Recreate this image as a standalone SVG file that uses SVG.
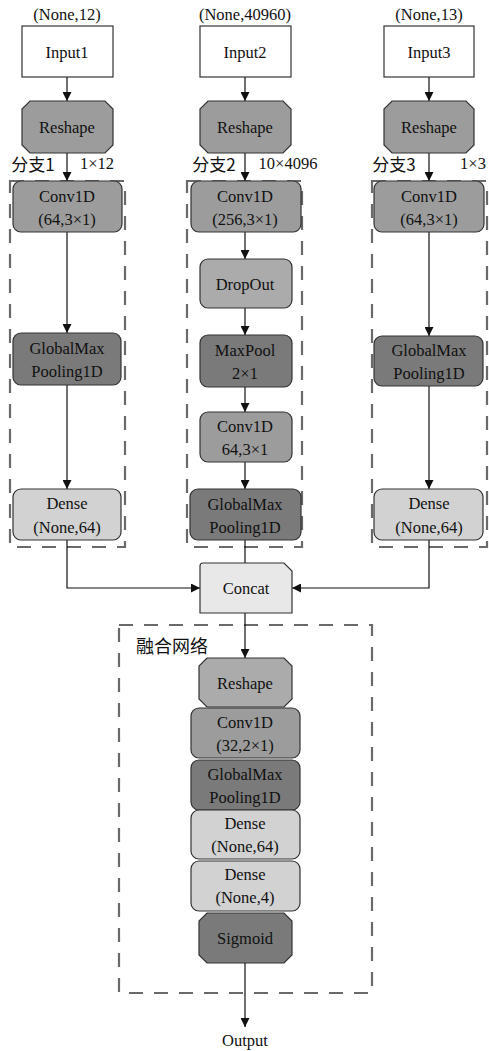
<svg xmlns="http://www.w3.org/2000/svg" width="489" height="1051" viewBox="0 0 489 1051">
<defs>
<marker id="ah" viewBox="0 0 10 10" refX="10" refY="5" markerWidth="9" markerHeight="9" markerUnits="userSpaceOnUse" orient="auto"><path d="M0,0 L10,5 L0,10 Z" fill="#111"/></marker>
<style>
text{font-family:"Liberation Serif","Noto Sans CJK SC",serif;font-size:16.5px;fill:#111;text-anchor:middle;dominant-baseline:central}
.cjk{font-family:"Noto Sans CJK SC","Liberation Serif",sans-serif;font-size:17px}
.cjkb{font-family:"Noto Sans CJK SC","Liberation Serif",sans-serif;font-size:18px}
.nd{stroke:#333;stroke-width:1.2}
.in{fill:#fff}
.mid{fill:#9c9c9c}
.dark{fill:#7a7a7a}
.light{fill:#d2d2d2}
.vlight{fill:#e8e8e8}
.semi{fill:#ababab}
.dash{fill:none;stroke:#6a6a6a;stroke-width:2.2;stroke-dasharray:14 11}
.ln{fill:none;stroke:#111;stroke-width:1.2}
</style>
</defs>
<rect width="489" height="1051" fill="#fff"/>

<g id="groups">
<rect class="dash" x="10" y="181" width="115" height="366"/>
<rect class="dash" x="187" y="181" width="115" height="366"/>
<rect class="dash" x="372" y="181" width="115" height="366"/>
<rect class="dash" x="119" y="625" width="253" height="368"/>
</g>

<g id="connectors">
<line class="ln" x1="67" y1="77" x2="67" y2="101" marker-end="url(#ah)"/>
<line class="ln" x1="67" y1="153" x2="67" y2="181" marker-end="url(#ah)"/>
<line class="ln" x1="67" y1="232" x2="67" y2="333" marker-end="url(#ah)"/>
<line class="ln" x1="67" y1="385" x2="67" y2="489" marker-end="url(#ah)"/>
<polyline class="ln" points="67,540 67,588 200,588" marker-end="url(#ah)"/>
<line class="ln" x1="245" y1="77" x2="245" y2="101" marker-end="url(#ah)"/>
<line class="ln" x1="245" y1="153" x2="245" y2="181" marker-end="url(#ah)"/>
<line class="ln" x1="245" y1="232" x2="245" y2="259" marker-end="url(#ah)"/>
<line class="ln" x1="245" y1="308" x2="245" y2="335" marker-end="url(#ah)"/>
<line class="ln" x1="245" y1="387" x2="245" y2="412" marker-end="url(#ah)"/>
<line class="ln" x1="245" y1="462" x2="245" y2="489" marker-end="url(#ah)"/>
<line class="ln" x1="245" y1="540" x2="245" y2="563"/>
<line class="ln" x1="429" y1="77" x2="429" y2="101" marker-end="url(#ah)"/>
<line class="ln" x1="429" y1="153" x2="429" y2="181" marker-end="url(#ah)"/>
<line class="ln" x1="429" y1="232" x2="429" y2="336" marker-end="url(#ah)"/>
<line class="ln" x1="429" y1="386" x2="429" y2="489" marker-end="url(#ah)"/>
<polyline class="ln" points="429,540 429,588 292,588" marker-end="url(#ah)"/>
<line class="ln" x1="245" y1="613" x2="245" y2="658" marker-end="url(#ah)"/>
<line class="ln" x1="245" y1="963" x2="245" y2="1027" marker-end="url(#ah)"/>
</g>

<g id="labels">
<text x="67" y="14">(None,12)</text>
<text x="245" y="14">(None,40960)</text>
<text x="429" y="14">(None,13)</text>
<text class="cjk" x="33" y="163">分支1</text>
<text x="97" y="163">1×12</text>
<text class="cjk" x="214" y="163">分支2</text>
<text x="288" y="163">10×4096</text>
<text class="cjk" x="394" y="163">分支3</text>
<text x="473" y="163">1×3</text>
<text class="cjkb" x="172" y="645">融合网络</text>
<text x="245" y="1040">Output</text>
</g>

<g id="input1"><rect class="nd in" x="22" y="26" width="91" height="51"/><text x="67" y="52">Input1</text></g>
<g id="input2"><rect class="nd in" x="200" y="26" width="91" height="51"/><text x="245" y="52">Input2</text></g>
<g id="input3"><rect class="nd in" x="384" y="26" width="90" height="51"/><text x="429" y="52">Input3</text></g>

<g id="reshape1"><polygon class="nd mid" points="30,101 105,101 113,109 113,145 105,153 30,153 22,145 22,109"/><text x="67" y="127">Reshape</text></g>
<g id="reshape2"><polygon class="nd mid" points="208,101 283,101 291,109 291,145 283,153 208,153 200,145 200,109"/><text x="245" y="127">Reshape</text></g>
<g id="reshape3"><polygon class="nd mid" points="392,101 466,101 474,109 474,145 466,153 392,153 384,145 384,109"/><text x="429" y="127">Reshape</text></g>

<g id="conv1"><rect class="nd mid" x="13" y="181" width="109" height="51" rx="8"/><text x="67" y="196">Conv1D</text><text x="67" y="219">(64,3×1)</text></g>
<g id="conv2"><rect class="nd mid" x="191" y="181" width="110" height="51" rx="8"/><text x="245" y="196">Conv1D</text><text x="245" y="219">(256,3×1)</text></g>
<g id="conv3"><rect class="nd mid" x="374" y="181" width="110" height="51" rx="8"/><text x="429" y="196">Conv1D</text><text x="429" y="219">(64,3×1)</text></g>

<g id="dropout"><rect class="nd semi" x="200" y="259" width="92" height="49" rx="8"/><text x="245" y="284">DropOut</text></g>
<g id="maxpool"><rect class="nd dark" x="200" y="335" width="92" height="52" rx="8"/><text x="245" y="350">MaxPool</text><text x="245" y="373">2×1</text></g>
<g id="conv2b"><rect class="nd mid" x="200" y="412" width="92" height="50" rx="8"/><text x="245" y="426">Conv1D</text><text x="245" y="449">64,3×1</text></g>

<g id="gmp1"><rect class="nd dark" x="13" y="333" width="108" height="52" rx="8"/><text x="67" y="348">GlobalMax</text><text x="67" y="371">Pooling1D</text></g>
<g id="gmp2"><rect class="nd dark" x="190" y="489" width="111" height="51" rx="8"/><text x="245" y="504">GlobalMax</text><text x="245" y="527">Pooling1D</text></g>
<g id="gmp3"><rect class="nd dark" x="374" y="336" width="109" height="50" rx="8"/><text x="429" y="350">GlobalMax</text><text x="429" y="373">Pooling1D</text></g>

<g id="dense1"><rect class="nd light" x="13" y="489" width="108" height="51" rx="8"/><text x="67" y="503">Dense</text><text x="67" y="527">(None,64)</text></g>
<g id="dense3"><rect class="nd light" x="374" y="489" width="109" height="51" rx="8"/><text x="429" y="503">Dense</text><text x="429" y="527">(None,64)</text></g>

<g id="concat"><path class="nd vlight" d="M203,563 H284 L292,571 V613 H200 V566 Q200,563 203,563 Z"/><text x="246" y="588">Concat</text></g>

<g id="f_reshape"><polygon class="nd semi" points="207,658 284,658 292,666 292,699 284,707 207,707 199,699 199,666"/><text x="245" y="683">Reshape</text></g>
<g id="f_conv"><rect class="nd mid" x="191" y="708" width="109" height="50" rx="8"/><text x="245" y="722">Conv1D</text><text x="245" y="745">(32,2×1)</text></g>
<g id="f_gmp"><rect class="nd dark" x="191" y="760" width="109" height="50" rx="8"/><text x="245" y="774">GlobalMax</text><text x="245" y="797">Pooling1D</text></g>
<g id="f_dense64"><rect class="nd light" x="191" y="810" width="109" height="49" rx="8"/><text x="245" y="823">Dense</text><text x="245" y="846">(None,64)</text></g>
<g id="f_dense4"><rect class="nd light" x="191" y="861" width="109" height="50" rx="8"/><text x="245" y="874">Dense</text><text x="245" y="897">(None,4)</text></g>
<g id="sigmoid"><polygon class="nd dark" points="207,913 284,913 292,921 292,955 284,963 207,963 199,955 199,921"/><text x="245" y="938">Sigmoid</text></g>
</svg>
